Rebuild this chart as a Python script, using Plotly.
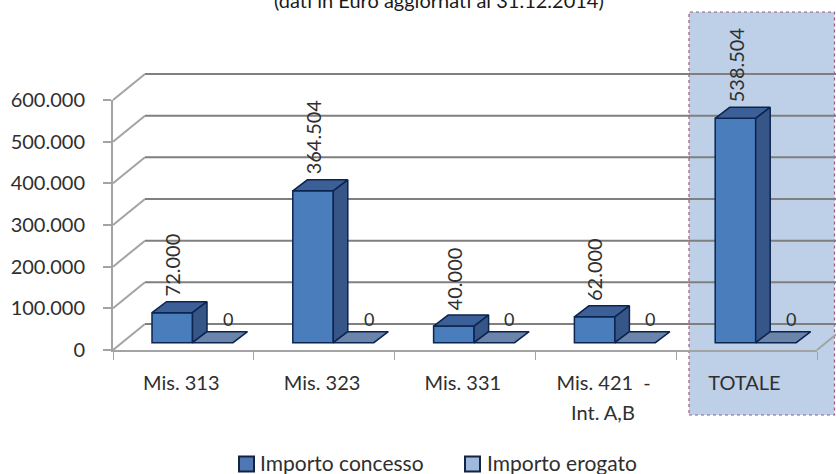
import plotly.graph_objects as go

# ---- data ----
categories = ["Mis. 313", "Mis. 323", "Mis. 331", "Mis. 421  -", "TOTALE"]
second_line = ["", "", "", "Int. A,B", ""]
importo_concesso = [72000, 364504, 40000, 62000, 538504]
importo_erogato = [0, 0, 0, 0, 0]
value_labels_concesso = ["72.000", "364.504", "40.000", "62.000", "538.504"]
value_labels_erogato = ["0", "0", "0", "0", "0"]
series_names = ["Importo concesso", "Importo erogato"]
y_ticks = [0, 100000, 200000, 300000, 400000, 500000, 600000]
title_text = "(dati in Euro aggiornati al 31.12.2014)"

# ---- geometry (pixels of the 836x474 page) ----
W, H = 836, 474
L, R, T, B = 113, 817, 100, 350
YMAX = 600000
NC = len(categories)
px_x = NC / (R - L)            # data units per px horizontally
px_y = YMAX / (B - T)          # data units per px vertically
FONT = "Lato"
TXT = "#2f2f2f"
GRID = "#7f7f7f"
AXIS = "#a3a3a3"
EDGE = "#0c2450"

def XP(p): return (p - L) / (R - L)
def YP(p): return (B - p) / (B - T)

bar_w = 40.5 * px_x
gap0 = 39 * px_x
dx, dy = 14.5 * px_x, 11 * px_y
lift = 7.3 * px_y
wall_x, wall_y = 32, 26

fig = go.Figure()

# front faces of the first series
fig.add_trace(go.Bar(
    x=[i + gap0 + bar_w / 2 for i in range(NC)], y=importo_concesso,
    base=[lift] * NC, width=bar_w, name=series_names[0],
    marker=dict(color="#4a7dbb", line=dict(color=EDGE, width=1.5)),
    cliponaxis=False, showlegend=False, hoverinfo="skip"))

def poly(xs, ys, fill):
    fig.add_trace(go.Scatter(
        x=xs + xs[:1], y=ys + ys[:1], mode="lines", fill="toself",
        fillcolor=fill, line=dict(color=EDGE, width=1.5),
        cliponaxis=False, showlegend=False, hoverinfo="skip"))

for i, v in enumerate(importo_concesso):
    x0 = i + gap0
    x1 = x0 + bar_w
    top = v + lift
    poly([x0, x1, x1 + dx, x0 + dx], [top, top, top + dy, top + dy], "#3b5f96")
    poly([x1, x1 + dx, x1 + dx, x1], [lift, lift + dy, top + dy, top], "#375688")
    # second series: flat slab beside the first
    e = importo_erogato[i]
    a0 = x1
    a1 = a0 + bar_w
    et = e + lift
    poly([a0, a1, a1 + dx, a0 + dx], [et, et, et + dy, et + dy], "#6b84a9")

# ---- shapes: highlight, back wall lines, floor ----
shapes = [dict(type="rect", xref="paper", yref="paper", layer="below",
               x0=XP(689), x1=XP(834.5), y0=YP(415), y1=YP(12),
               fillcolor="#bdd0e7", line=dict(color="#a05a78", width=1.2, dash="dot"))]
for t in y_ticks:
    yf = t / YMAX
    wy = wall_y / (B - T)
    wx = wall_x / (R - L)
    if t > 0:
        shapes.append(dict(type="line", xref="paper", yref="paper", layer="below",
                           x0=0, y0=yf, x1=wx, y1=yf + wy,
                           line=dict(color=AXIS, width=2)))
    shapes.append(dict(type="line", xref="paper", yref="paper", layer="below",
                       x0=wx, y0=yf + wy, x1=XP(836), y1=yf + wy,
                       line=dict(color=GRID, width=2)))
shapes.append(dict(type="line", xref="paper", yref="paper", layer="below",
                   x0=0, y0=0, x1=wall_x / (R - L), y1=wall_y / (B - T),
                   line=dict(color=AXIS, width=2)))
shapes.append(dict(type="line", xref="paper", yref="paper", layer="below",
                   x0=1, y0=0, x1=1 + wall_x / (R - L), y1=wall_y / (B - T),
                   line=dict(color=AXIS, width=2)))

# ---- legend (swatches + text) ----
legend_items = [(239, 258, "#4f76b5", series_names[0]), (465, 485, "#9db9dd", series_names[1])]
annotations = []
for sx, tx, col, name in legend_items:
    shapes.append(dict(type="rect", xref="paper", yref="paper",
                       x0=XP(sx), x1=XP(sx + 15), y0=YP(471.5), y1=YP(456.5),
                       fillcolor=col, line=dict(color="#14233f", width=2)))
    annotations.append(dict(xref="paper", yref="paper", x=XP(tx), y=YP(462),
                            xanchor="left", yanchor="middle", showarrow=False, text=name,
                            font=dict(family=FONT, size=21, color=TXT)))

# ---- value labels ----
label_gap = 5 * px_y
for i in range(NC):
    x0 = i + gap0
    annotations.append(dict(
        xref="x", yref="y", x=x0 + bar_w / 2,
        y=importo_concesso[i] + lift + dy + label_gap,
        text=value_labels_concesso[i], textangle=-90, showarrow=False,
        xanchor="center", yanchor="bottom", borderpad=0, borderwidth=0,
        font=dict(family=FONT, size=20, color=TXT)))
    annotations.append(dict(
        xref="x", yref="y", x=x0 + bar_w * 1.5 + 15 * px_x,
        y=importo_erogato[i] + lift + dy + label_gap - 3 * px_y,
        text=value_labels_erogato[i], showarrow=False,
        xanchor="center", yanchor="bottom", borderpad=0, borderwidth=0,
        font=dict(family=FONT, size=18, color=TXT)))
    if second_line[i]:
        annotations.append(dict(
            xref="paper", yref="paper", x=XP(603), y=YP(412),
            text=second_line[i], showarrow=False, xanchor="center", yanchor="middle",
            font=dict(family=FONT, size=20, color=TXT)))

annotations.append(dict(xref="paper", yref="paper", x=XP(439), y=YP(0),
                        text=title_text, showarrow=False, xanchor="center", yanchor="middle",
                        font=dict(family=FONT, size=20, color="#1a1a1a")))

fig.update_layout(
    width=W, height=H, autosize=False,
    margin=dict(l=L, r=W - R, t=T, b=H - B, pad=0),
    paper_bgcolor="white", plot_bgcolor="rgba(0,0,0,0)",
    separators=",.", barmode="overlay", showlegend=False,
    shapes=shapes, annotations=annotations,
    font=dict(family=FONT, size=20, color=TXT),
    xaxis=dict(range=[0, NC], tickmode="array",
               tickvals=[i + 0.485 for i in range(NC)], ticktext=categories,
               ticks="", showgrid=False, zeroline=False, showline=True,
               linecolor=AXIS, linewidth=2, ticklabelstandoff=14,
               minor=dict(tickmode="array", tickvals=list(range(NC + 1)), ticks="outside",
                          ticklen=8, tickcolor=AXIS, tickwidth=1, showgrid=False)),
    yaxis=dict(range=[0, YMAX], tickmode="array", tickvals=y_ticks,
               tickformat=",d", ticks="outside", ticklen=8, tickcolor=AXIS, tickwidth=2,
               showgrid=False, zeroline=False, showline=True, linecolor=AXIS, linewidth=2,
               ticklabelstandoff=14),
)

fig.write_html("out.html", config=dict(displayModeBar=False),
               post_script="document.body.style.margin='0';")
